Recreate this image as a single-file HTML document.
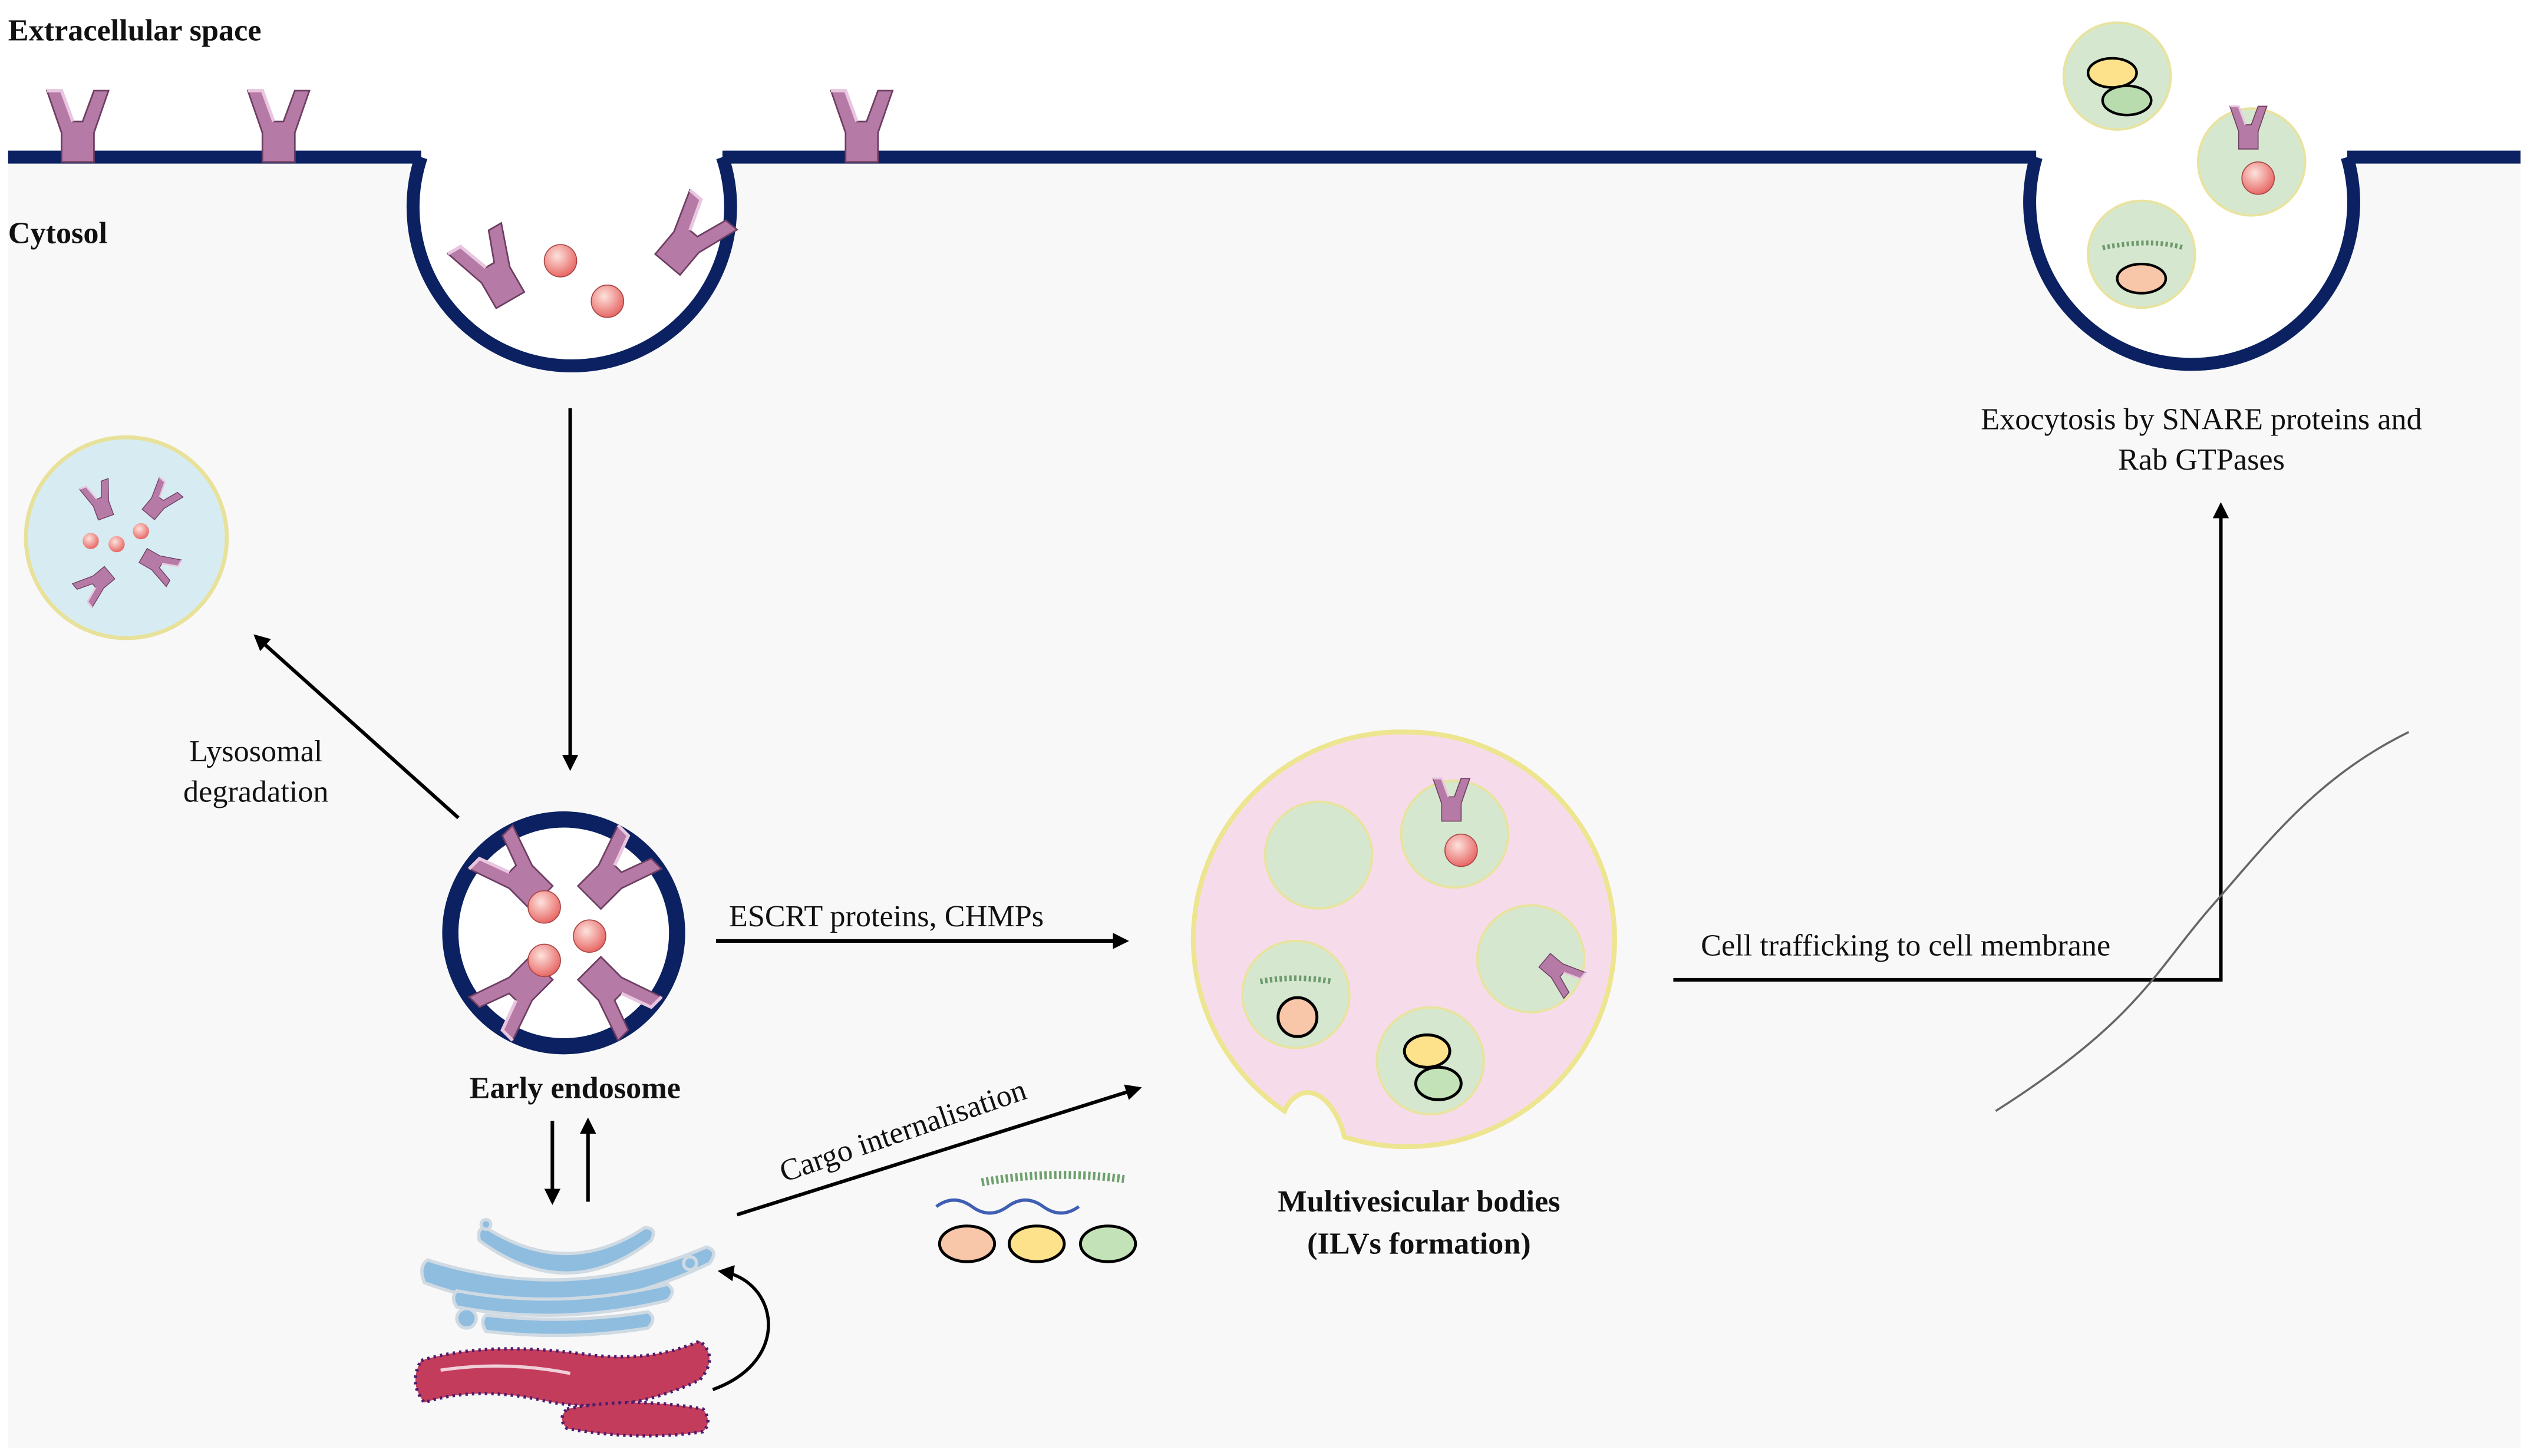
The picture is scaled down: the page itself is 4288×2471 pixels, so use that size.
<!DOCTYPE html>
<html><head><meta charset="utf-8"><style>
html,body{margin:0;padding:0;background:#fff}
svg{display:block}
text{font-family:"Liberation Serif","DejaVu Serif",serif;fill:#111}
</style></head><body>
<svg width="4288" height="2471" viewBox="0 0 1560 899" preserveAspectRatio="none" xmlns="http://www.w3.org/2000/svg" font-family="Liberation Serif, DejaVu Serif, serif">
<defs>
<marker id="ah" markerWidth="10" markerHeight="10" refX="8" refY="5" orient="auto" markerUnits="userSpaceOnUse"><path d="M0,0 L10,5 L0,10 z" fill="#000"/></marker>
<radialGradient id="ball" cx="0.4" cy="0.35" r="0.7"><stop offset="0" stop-color="#fde2dc"/><stop offset="1" stop-color="#e6605e"/></radialGradient>
<g id="rec"><path d="M-19,-24 L-10,-24 L-3,-5 L3,-5 L10,-24 L19,-24 L10,2 L10,20 L-10,20 L-10,2 Z" fill="#b67aa6" stroke="#6e3e62" stroke-width="1"/><path d="M-19,-24 L-10,-24 L-3,-5" stroke="#e9c6df" stroke-width="2" fill="none"/></g>
</defs>
<rect x="0" y="0" width="1560" height="899" fill="#fff"/>
<rect x="5" y="97" width="1551" height="797" fill="#f8f8f8"/>
<path d="M5,97 H260 M446,97 H1257 M1449,97 H1556" stroke="#0b2161" stroke-width="8" fill="none"/>
<path d="M260,97 A98,98 0 1 0 446,97" fill="#fff" stroke="#0b2161" stroke-width="8"/>
<path d="M1257,97 A100,100 0 1 0 1449,97" fill="#fff" stroke="#0b2161" stroke-width="8"/>
<text x="5" y="25" font-size="19" font-weight="bold">Extracellular space</text>
<text x="5" y="150" font-size="19" font-weight="bold">Cytosol</text>
<use href="#rec" x="48" y="80"/><use href="#rec" x="172" y="80"/><use href="#rec" x="532" y="80"/>
<use href="#rec" transform="translate(305,168) rotate(-30)"/>
<use href="#rec" transform="translate(425,148) rotate(40)"/>
<circle cx="346" cy="161" r="10" fill="url(#ball)" stroke="#a44" stroke-width="0.6"/>
<circle cx="375" cy="186" r="10" fill="url(#ball)" stroke="#a44" stroke-width="0.6"/>
<circle cx="1307" cy="47" r="33" fill="#d5e8cf" stroke="#e8e3a0" stroke-width="1.5"/>
<ellipse cx="1304" cy="45" rx="15" ry="9" fill="#fde28b" stroke="#000" stroke-width="1.6"/>
<ellipse cx="1313" cy="62" rx="15" ry="9" fill="#b8dcae" stroke="#000" stroke-width="1.6"/>
<circle cx="1390" cy="100" r="33" fill="#d5e8cf" stroke="#e8e3a0" stroke-width="1.5"/>
<use href="#rec" transform="translate(1388,80) scale(0.6)"/>
<circle cx="1394" cy="110" r="10" fill="url(#ball)" stroke="#a44" stroke-width="0.6"/>
<circle cx="1322" cy="157" r="33" fill="#d5e8cf" stroke="#e8e3a0" stroke-width="1.5"/>
<path d="M1298,153 q30,-6 50,0" stroke="#6e9a6e" stroke-width="3" fill="none" stroke-dasharray="1.5 1.5"/>
<ellipse cx="1322" cy="172" rx="15" ry="9" fill="#f8c6a8" stroke="#000" stroke-width="1.6"/>
<text x="1359" y="265" font-size="19" text-anchor="middle">Exocytosis by SNARE proteins and</text>
<text x="1359" y="290" font-size="19" text-anchor="middle">Rab GTPases</text>
<path d="M1033,605 H1371 V312" stroke="#000" stroke-width="2.2" fill="none" marker-end="url(#ah)"/>
<text x="1050" y="590" font-size="19">Cell trafficking to cell membrane</text>
<path d="M1232,686 C1320,630 1330,600 1365,560 C1400,520 1430,480 1487,452" stroke="#666" stroke-width="1.3" fill="none"/>
<path d="M352,252 V474" stroke="#000" stroke-width="2.2" marker-end="url(#ah)"/>
<circle cx="78" cy="332" r="62" fill="#d7ecf2" stroke="#e8e19a" stroke-width="2.5"/>
<use href="#rec" transform="translate(62,310) rotate(-20) scale(0.5)"/>
<use href="#rec" transform="translate(98,310) rotate(40) scale(0.5)"/>
<use href="#rec" transform="translate(60,360) rotate(-130) scale(0.5)"/>
<use href="#rec" transform="translate(97,348) rotate(120) scale(0.5)"/>
<circle cx="56" cy="334" r="5" fill="url(#ball)"/><circle cx="72" cy="336" r="5" fill="url(#ball)"/><circle cx="87" cy="328" r="5" fill="url(#ball)"/>
<path d="M283,505 L158,393" stroke="#000" stroke-width="2.2" marker-end="url(#ah)"/>
<text x="158" y="470" font-size="19" text-anchor="middle">Lysosomal</text>
<text x="158" y="495" font-size="19" text-anchor="middle">degradation</text>
<circle cx="348" cy="576" r="70" fill="#fff" stroke="#0b2161" stroke-width="10"/>
<use href="#rec" transform="translate(320,540) rotate(-45)"/>
<use href="#rec" transform="translate(378,540) rotate(45)"/>
<use href="#rec" transform="translate(320,612) rotate(-135)"/>
<use href="#rec" transform="translate(378,612) rotate(135)"/>
<circle cx="336" cy="560" r="10" fill="url(#ball)" stroke="#a44" stroke-width="0.6"/>
<circle cx="364" cy="578" r="10" fill="url(#ball)" stroke="#a44" stroke-width="0.6"/>
<circle cx="336" cy="593" r="10" fill="url(#ball)" stroke="#a44" stroke-width="0.6"/>
<text x="355" y="678" font-size="19" font-weight="bold" text-anchor="middle">Early endosome</text>
<path d="M341,692 V742" stroke="#000" stroke-width="2.2" marker-end="url(#ah)"/>
<path d="M363,742 V692" stroke="#000" stroke-width="2.2" marker-end="url(#ah)"/>
<path d="M442,581 H695" stroke="#000" stroke-width="2.2" marker-end="url(#ah)"/>
<text x="450" y="572" font-size="19">ESCRT proteins, CHMPs</text>
<path d="M455,750 L703,672" stroke="#000" stroke-width="2.2" marker-end="url(#ah)"/>
<text x="0" y="0" font-size="19" transform="translate(484,730) rotate(-19)">Cargo internalisation</text>
<path d="M606,730 q43,-8 88,-2" stroke="#6ea06e" stroke-width="5" fill="none" stroke-dasharray="1.5 1.5"/>
<path d="M578,745 q11,-8 22,0 t22,0 t22,0 t22,0" stroke="#3f5fb5" stroke-width="2" fill="none"/>
<ellipse cx="597" cy="768" rx="17" ry="11" fill="#f8c6a8" stroke="#000" stroke-width="1.8"/>
<ellipse cx="640" cy="768" rx="17" ry="11" fill="#fde28b" stroke="#000" stroke-width="1.8"/>
<ellipse cx="684" cy="768" rx="17" ry="11" fill="#c4e2b8" stroke="#000" stroke-width="1.8"/>
<path d="M868,452 A128,128 0 1 1 830,702 C826,685 815,672 804,675 C796,678 794,684 793,686 A128,128 0 0 1 868,452 Z" fill="#f6dceb" stroke="#ede58f" stroke-width="3"/>
<circle cx="814" cy="528" r="33" fill="#d5e8cf" stroke="#e8e3a0" stroke-width="1.5"/>
<circle cx="898" cy="515" r="33" fill="#d5e8cf" stroke="#e8e3a0" stroke-width="1.5"/>
<use href="#rec" transform="translate(896,495) scale(0.6)"/>
<circle cx="902" cy="525" r="10" fill="url(#ball)" stroke="#a44" stroke-width="0.6"/>
<circle cx="945" cy="592" r="33" fill="#d5e8cf" stroke="#e8e3a0" stroke-width="1.5"/>
<use href="#rec" transform="translate(962,600) rotate(130) scale(0.55)"/>
<circle cx="800" cy="614" r="33" fill="#d5e8cf" stroke="#e8e3a0" stroke-width="1.5"/>
<path d="M778,606 q22,-4 44,0" stroke="#6e9a6e" stroke-width="3.5" fill="none" stroke-dasharray="1.5 1.5"/>
<circle cx="801" cy="628" r="12" fill="#f8c6a8" stroke="#000" stroke-width="1.8"/>
<circle cx="883" cy="655" r="33" fill="#d5e8cf" stroke="#e8e3a0" stroke-width="1.5"/>
<ellipse cx="881" cy="649" rx="14" ry="10" fill="#fde28b" stroke="#000" stroke-width="1.8"/>
<ellipse cx="888" cy="669" rx="14" ry="10" fill="#c4e2b8" stroke="#000" stroke-width="1.8"/>
<text x="876" y="748" font-size="19" font-weight="bold" text-anchor="middle">Multivesicular bodies</text>
<text x="876" y="774" font-size="19" font-weight="bold" text-anchor="middle">(ILVs formation)</text>
<!-- golgi -->
<g fill="#8fbde0" stroke="#d0dae2" stroke-width="2">
<path d="M300,758 q50,32 98,0 q8,0 4,8 q-52,40 -106,0 q-2,-8 4,-8 z"/>
<path d="M264,778 q88,28 172,-8 q8,2 2,10 q-90,44 -176,12 q-4,-10 2,-14 z"/>
<path d="M282,797 q65,12 130,-4 q6,4 0,10 q-66,16 -130,4 q-4,-6 0,-10 z"/>
<path d="M300,812 q50,6 100,-2 q6,4 0,10 q-50,8 -100,2 q-4,-6 0,-10 z"/>
<circle cx="288" cy="814" r="6"/><circle cx="300" cy="756" r="3"/><circle cx="426" cy="780" r="4"/>
</g>
<!-- ER -->
<g fill="#c43c5c" stroke="#4b1d6b" stroke-width="2" stroke-dasharray="1.5 2.5">
<path d="M260,840 q40,-12 100,-4 q40,6 72,-8 q12,10 0,24 q-50,24 -100,12 q-40,-8 -70,2 q-10,-12 -2,-26 z"/>
<path d="M350,870 q40,-8 84,0 q6,8 0,14 q-40,6 -84,-2 q-6,-6 0,-12 z"/>
</g>
<path d="M272,846 q40,-6 80,2" stroke="#f0d0da" stroke-width="2" fill="none"/>
<path d="M440,858 C490,840 480,790 445,785" stroke="#000" stroke-width="2" fill="none" marker-end="url(#ah)"/>
</svg>
</body></html>
